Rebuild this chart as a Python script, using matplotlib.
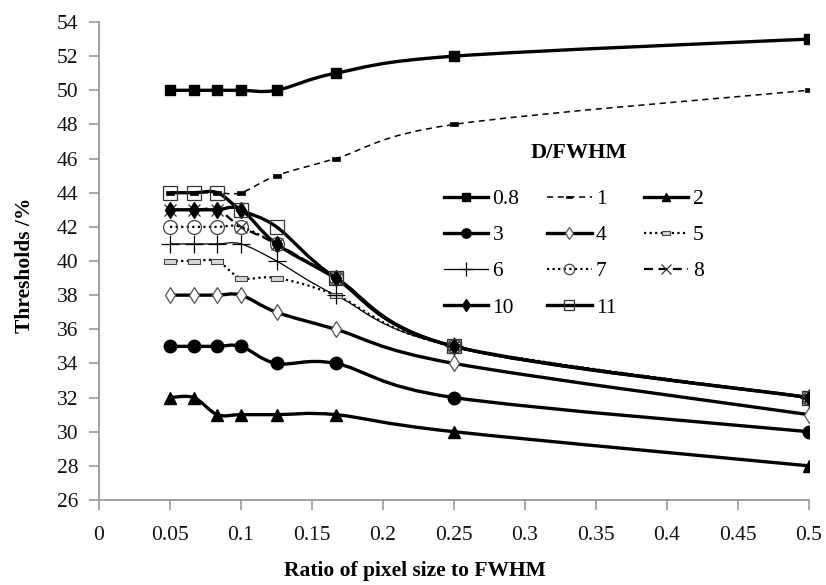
import numpy as np
import matplotlib
matplotlib.use("Agg")
import matplotlib.pyplot as plt
from matplotlib.path import Path
from matplotlib.patches import PathPatch
from matplotlib.lines import Line2D

# ---------------- data ----------------
x = [0.05, 0.0667, 0.0833, 0.1, 0.125, 0.1667, 0.25, 0.5]
labels = ["0.8", "1", "2", "3", "4", "5", "6", "7", "8", "10", "11"]
y_08 = [50, 50, 50, 50, 50, 51, 52, 53]
y_1 = [44, 44, 44, 44, 45, 46, 48, 50]
y_2 = [32, 32, 31, 31, 31, 31, 30, 28]
y_3 = [35, 35, 35, 35, 34, 34, 32, 30]
y_4 = [38, 38, 38, 38, 37, 36, 34, 31]
y_5 = [40, 40, 40, 39, 39, 38, 35, 32]
y_6 = [41, 41, 41, 41, 40, 38, 35, 32]
y_7 = [42, 42, 42, 42, 41, 39, 35, 32]
y_8 = [43, 43, 43, 42, 41, 39, 35, 32]
y_10 = [43, 43, 43, 43, 41, 39, 35, 32]
y_11 = [44, 44, 44, 43, 42, 39, 35, 32]
series = [y_08, y_1, y_2, y_3, y_4, y_5, y_6, y_7, y_8, y_10, y_11]

xticks = [0, 0.05, 0.1, 0.15, 0.2, 0.25, 0.3, 0.35, 0.4, 0.45, 0.5]
yticks = list(range(26, 55, 2))

# ---------------- styles ----------------
rect = [(-1, -0.45), (1, -0.45), (1, 0.45), (-1, 0.45), (-1, -0.45)]
styles = {
    "0.8": dict(lw=2.4, ls="-", marker="s", ms=7.5, mfc="black", mec="black", mew=1),
    "1": dict(lw=1.1, ls=(0, (4, 3)), marker=rect, ms=6, mfc="black", mec="black", mew=0.5),
    "2": dict(lw=2.4, ls="-", marker="^", ms=8.5, mfc="black", mec="black", mew=1),
    "3": dict(lw=2.4, ls="-", marker="o", ms=9, mfc="black", mec="black", mew=1),
    "4": dict(lw=2.4, ls="-", marker="d", ms=8.5, mfc="white", mec="#555555", mew=0.9),
    "5": dict(lw=1.6, ls=(0, (1, 1.5)), marker=rect, ms=8, mfc="#d8d8d8", mec="#444444", mew=0.8),
    "6": dict(lw=0.9, ls="-", marker="+", ms=13, mfc="black", mec="black", mew=0.9),
    "7": dict(lw=1.6, ls=(0, (1, 1.5)), marker="o", ms=10, mfc="none", mec="#444444", mew=0.9),
    "8": dict(lw=1.6, ls=(0, (4, 2.5)), marker="x", ms=9, mfc="none", mec="#333333", mew=0.9),
    "10": dict(lw=2.4, ls="-", marker="d", ms=8.5, mfc="black", mec="black", mew=1),
    "11": dict(lw=2.4, ls="-", marker="s", ms=9.5, mfc="none", mec="#333333", mew=0.9),
}

plt.rcParams["font.family"] = ["Liberation Serif", "DejaVu Serif"]

fig = plt.figure(figsize=(8.26, 5.85), dpi=100)
ax = fig.add_axes([99 / 826, 85 / 585, 710 / 826, 478 / 585])


def smooth_path(xs, ys):
    pts = np.column_stack([xs, ys]).astype(float)
    n = len(pts)
    verts = [pts[0]]
    codes = [Path.MOVETO]
    for i in range(n - 1):
        p0 = pts[i - 1] if i > 0 else pts[i]
        p1 = pts[i]
        p2 = pts[i + 1]
        p3 = pts[i + 2] if i + 2 < n else pts[i + 1]
        c1 = p1 + (p2 - p0) / 6.0
        c2 = p2 - (p3 - p1) / 6.0
        verts += [c1, c2, p2]
        codes += [Path.CURVE4] * 3
    return Path(verts, codes)


handles = {}
for lab, ys in zip(labels, series):
    st = styles[lab]
    patch = PathPatch(smooth_path(x, ys), facecolor="none", edgecolor="black",
                      lw=st["lw"], linestyle=st["ls"], zorder=2, capstyle="butt")
    ax.add_patch(patch)
    ax.plot(x, ys, linestyle="none", marker=st["marker"], ms=st["ms"],
            mfc=st["mfc"], mec=st["mec"], mew=st["mew"], zorder=3)
    handles[lab] = Line2D([], [], color="black", lw=st["lw"], ls=st["ls"],
                          marker=st["marker"], ms=st["ms"] * 0.75, mfc=st["mfc"],
                          mec=st["mec"], mew=st["mew"])

ax.set_xlim(0, 0.5)
ax.set_ylim(26, 54)
ax.set_xticks(xticks)
ax.set_xticklabels([f"{v:g}" for v in xticks])
ax.set_yticks(yticks)

for s in ["top", "right"]:
    ax.spines[s].set_visible(False)
for s in ["left", "bottom"]:
    ax.spines[s].set_color("#999999")
    ax.spines[s].set_linewidth(1.3)
ax.tick_params(axis="both", direction="out", color="#999999", width=1.2, length=7,
               labelsize=15.5, labelcolor="#111111")
ax.tick_params(axis="y", pad=8)
ax.tick_params(axis="x", pad=12)

ax.set_xlabel("Ratio of pixel size to FWHM", fontsize=15.5, fontweight="bold")
ax.xaxis.set_label_coords(415 / 826, 1 - 561 / 585, transform=fig.transFigure)
ax.set_ylabel("Thresholds /%", fontsize=15.5, fontweight="bold")
ax.yaxis.set_label_coords(35 / 826, 1 - 265 / 585, transform=fig.transFigure)

order = ["0.8", "3", "6", "10", "1", "4", "7", "11", "2", "5", "8"]
leg = ax.legend([handles[k] for k in order], order, ncol=3, frameon=False,
                loc="upper left", bbox_to_anchor=(444 / 826, 1 - 189 / 585),
                bbox_transform=fig.transFigure, fontsize=15.5, handlelength=2.05,
                handletextpad=0.2, columnspacing=1.3, labelspacing=0.75,
                borderpad=0, borderaxespad=0)
fig.text(579 / 826, 1 - 153 / 585, "D/FWHM", fontsize=16, fontweight="bold",
         ha="center", va="center")

fig.savefig("out.png", dpi=100)
